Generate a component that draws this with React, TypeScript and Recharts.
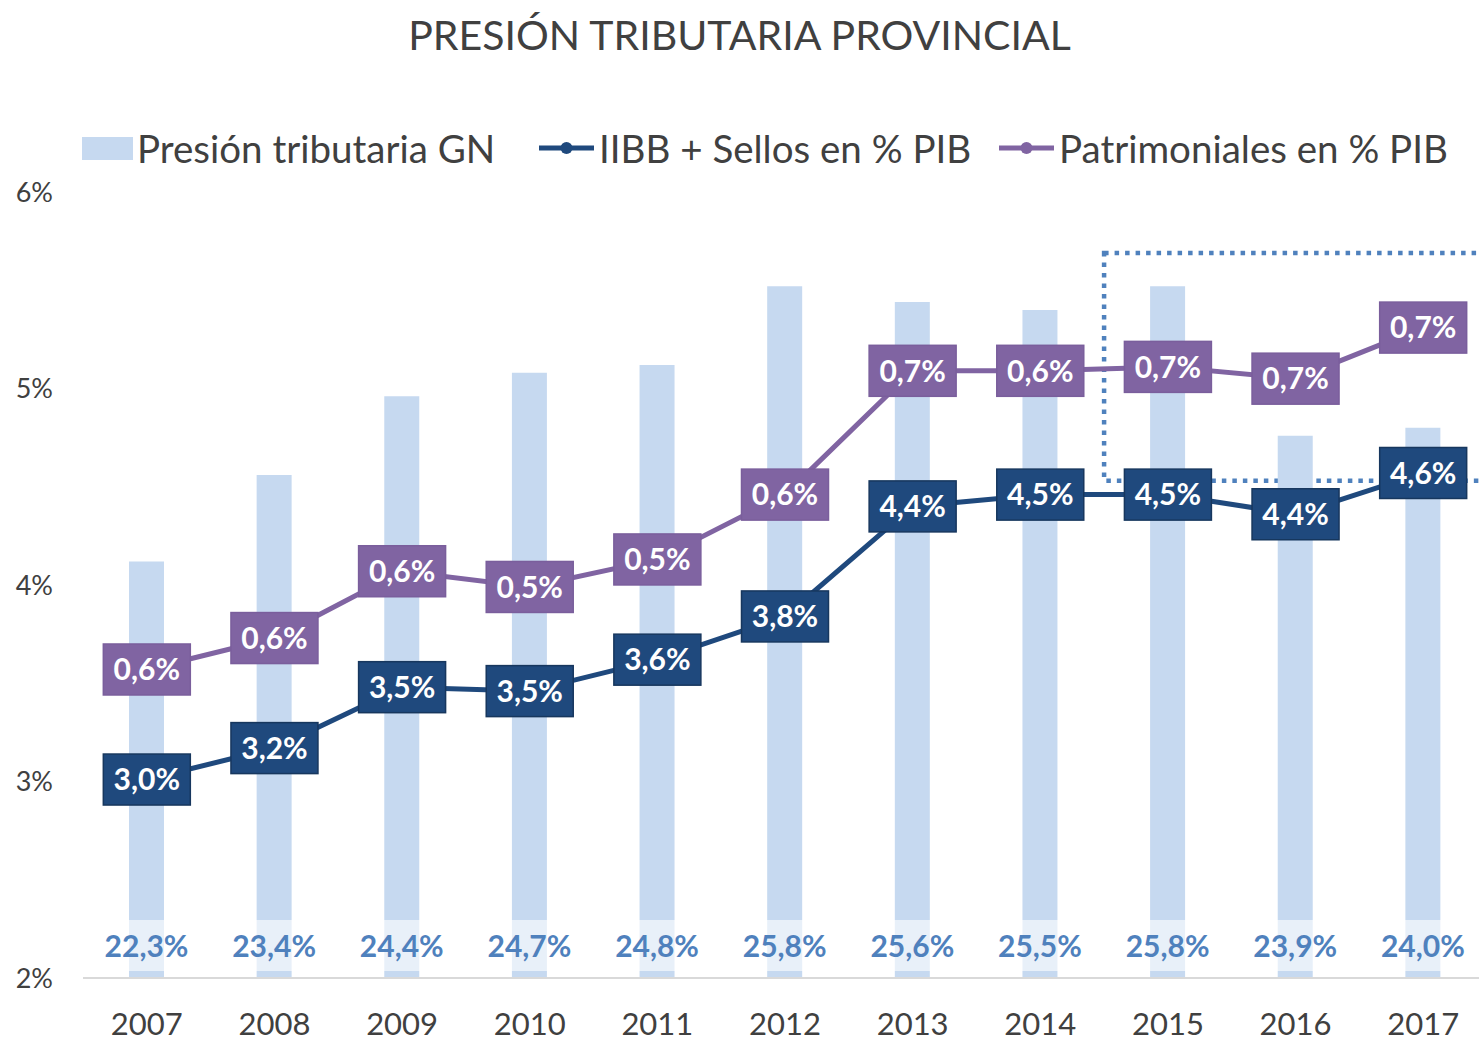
import React from 'react';
import { ComposedChart, Bar, Line, XAxis, YAxis, LabelList, Legend, ReferenceArea } from 'recharts';

// años del eje X
const years = ['2007', '2008', '2009', '2010', '2011', '2012', '2013', '2014', '2015', '2016', '2017'];
// presión tributaria nacional (% PIB), eje secundario
const presionGN = [22.3, 23.4, 24.4, 24.7, 24.8, 25.8, 25.6, 25.5, 25.8, 23.9, 24.0];
// IIBB + Sellos en % PIB
const iibbSellos = [3.01, 3.17, 3.48, 3.46, 3.62, 3.84, 4.4, 4.46, 4.46, 4.36, 4.57];
// Patrimoniales en % PIB (se apila sobre IIBB + Sellos)
const patrimoniales = [0.56, 0.56, 0.59, 0.53, 0.51, 0.62, 0.69, 0.63, 0.65, 0.69, 0.74];
const leftTicks = [2, 3, 4, 5, 6];
const gnDomain = [17, 27];
// recuadro punteado
const highlight = { from: '2015', to: '2017', low: 4.53, high: 5.69 };

const NAVY = '#1f497d';
const PURPLE = '#8064a2';
const BAR = '#c6d9f0';
const BLUE_TEXT = '#4f81bd';
const GRAY = '#404040';

const data = years.map((year, i) => ({
  year,
  gn: presionGN[i],
  iibb: iibbSellos[i],
  patr: patrimoniales[i],
  patrTotal: iibbSellos[i] + patrimoniales[i],
}));

const fmt = (v: number) => (Math.round(v * 10) / 10).toFixed(1).replace('.', ',') + '%';

const boxLabel = (fill: string, stroke: string) => (props: any) => {
  const x = Number(props.x);
  const y = Number(props.y);
  return (
    <g>
      <rect x={x - 43.5} y={y - 25.5} width={87} height={51} fill={fill} stroke={stroke} strokeWidth={1.5} />
      <text x={x} y={y} dy="0.36em" textAnchor="middle" fill="#fff" fontSize={30} fontWeight={700}>
        {fmt(Number(props.value))}
      </text>
    </g>
  );
};

const BarBottomLabel = (props: any) => {
  const cx = Number(props.x) + Number(props.width) / 2;
  const bottom = Number(props.y) + Number(props.height);
  return (
    <g>
      <rect x={cx - 43} y={bottom - 58} width={86} height={51} fill="#fff" fillOpacity={0.6} />
      <text x={cx} y={bottom - 32} dy="0.36em" textAnchor="middle" fill={BLUE_TEXT} fontSize={30} fontWeight={700}>
        {fmt(Number(props.value))}
      </text>
    </g>
  );
};

const LineIcon = ({ color }: { color: string }) => (
  <svg width={57} height={14} style={{ display: 'block' }}>
    <line x1={1} y1={7} x2={56} y2={7} stroke={color} strokeWidth={5} />
    <circle cx={28.5} cy={7} r={6} fill={color} />
  </svg>
);

const legendText: React.CSSProperties = { fontSize: 38.5, color: GRAY, whiteSpace: 'nowrap', marginLeft: 4 };

const LegendContent = () => (
  <div style={{ position: 'relative', width: 1479, height: 50 }}>
    <div style={{ position: 'absolute', left: 82, top: 0, height: 50, display: 'flex', alignItems: 'center' }}>
      <span style={{ display: 'block', width: 51, height: 23, background: BAR }} />
      <span style={legendText}>Presión tributaria GN</span>
    </div>
    <div style={{ position: 'absolute', left: 538, top: 0, height: 50, display: 'flex', alignItems: 'center' }}>
      <LineIcon color={NAVY} />
      <span style={legendText}>IIBB + Sellos en % PIB</span>
    </div>
    <div style={{ position: 'absolute', left: 998, top: 0, height: 50, display: 'flex', alignItems: 'center' }}>
      <LineIcon color={PURPLE} />
      <span style={legendText}>Patrimoniales en % PIB</span>
    </div>
  </div>
);

export default function App() {
  return (
    <div
      style={{
        position: 'absolute',
        left: 0,
        top: 0,
        width: 1479,
        height: 1041,
        overflow: 'hidden',
        background: '#fff',
        fontFamily: 'Lato, sans-serif',
      }}
    >
      <div
        style={{
          position: 'absolute',
          top: 10,
          left: 0,
          width: 1479,
          textAlign: 'center',
          fontSize: 41,
          color: GRAY,
          lineHeight: '50px',
        }}
      >
        PRESIÓN TRIBUTARIA PROVINCIAL
      </div>
      <ComposedChart width={1495} height={1041} data={data} margin={{ top: 142, right: 8, bottom: 0, left: 0 }}>
        <Legend
          layout="vertical"
          align="center"
          verticalAlign="top"
          content={<LegendContent />}
          wrapperStyle={{ top: 123, left: 0, width: 1479, height: 50 }}
        />
        <XAxis
          dataKey="year"
          height={63}
          tickSize={0}
          tickMargin={35}
          axisLine={{ stroke: '#d9d9d9', strokeWidth: 2 }}
          tick={{ fill: GRAY, fontSize: 31 }}
        />
        <YAxis
          yAxisId="left"
          width={83}
          domain={[2, 6]}
          ticks={leftTicks}
          tickFormatter={(v) => v + '%'}
          axisLine={false}
          tickLine={false}
          tickSize={0}
          tickMargin={30}
          tick={{ fill: GRAY, fontSize: 27 }}
        />
        <YAxis yAxisId="right" orientation="right" hide domain={gnDomain} />
        <Bar yAxisId="right" dataKey="gn" fill={BAR} barSize={35} isAnimationActive={false}>
          <LabelList dataKey="gn" content={BarBottomLabel} />
        </Bar>
        <Line
          yAxisId="left"
          dataKey="iibb"
          stroke={NAVY}
          strokeWidth={5}
          dot={false}
          isAnimationActive={false}
        >
          <LabelList dataKey="iibb" content={boxLabel(NAVY, '#17375e')} />
        </Line>
        <Line
          yAxisId="left"
          dataKey="patrTotal"
          stroke={PURPLE}
          strokeWidth={5}
          dot={false}
          isAnimationActive={false}
        >
          <LabelList dataKey="patr" content={boxLabel(PURPLE, '#7a5e9c')} />
        </Line>
        <ReferenceArea
          yAxisId="left"
          x1={highlight.from}
          x2={highlight.to}
          y1={highlight.low}
          y2={highlight.high}
          fill="none"
          stroke={BLUE_TEXT}
          strokeWidth={4.5}
          strokeDasharray="4.5 6"
          ifOverflow="visible"
        />
      </ComposedChart>
    </div>
  );
}
